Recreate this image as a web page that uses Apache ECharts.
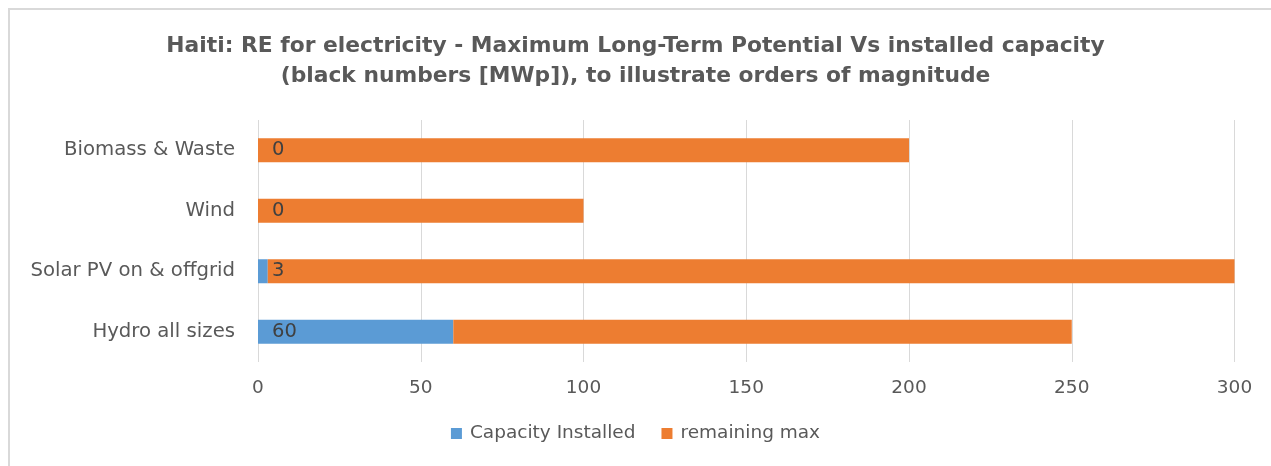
<!DOCTYPE html>
<html><head><meta charset="utf-8">
<script src="https://cdn.jsdelivr.net/npm/echarts@6/dist/echarts.min.js"></script>
<style>
html,body{margin:0;padding:0;background:#fff;overflow:hidden;}
#c{position:absolute;left:0;top:0;width:1271px;height:466px;}
</style></head>
<body>
<div id="c"></div>
<script>
var categories = ['Hydro all sizes', 'Solar PV on & offgrid', 'Wind', 'Biomass & Waste'];
var capacityInstalled = [60, 3, 0, 0];
var remainingMax = [190, 297, 100, 200];
var xTicks = [0, 50, 100, 150, 200, 250, 300];
var seriesNames = ['Capacity Installed', 'remaining max'];

var FONT = 'DejaVu Sans';
var chart = echarts.init(document.getElementById('c'), null, {renderer: 'canvas'});
chart.setOption({
  backgroundColor: '#fff',
  animation: false,
  graphic: [
    {type: 'line', shape: {x1: 8, y1: 9, x2: 1271, y2: 9}, style: {stroke: '#d9d9d9', lineWidth: 2}, silent: true},
    {type: 'line', shape: {x1: 9, y1: 8, x2: 9, y2: 466}, style: {stroke: '#d9d9d9', lineWidth: 2}, silent: true}
  ],
  title: {
    text: 'Haiti: RE for electricity - Maximum Long-Term Potential Vs installed capacity\n(black numbers [MWp]), to illustrate orders of magnitude',
    left: 'center', top: 26,
    textStyle: {fontFamily: FONT, fontWeight: 'bold', fontSize: 21.8, color: '#595959', lineHeight: 30}
  },
  legend: {
    bottom: 18, left: 'center',
    itemWidth: 11, itemHeight: 11, itemGap: 26,
    icon: 'rect',
    textStyle: {fontFamily: FONT, fontSize: 18.5, color: '#595959', padding: [0, 0, 0, 3]},
    data: seriesNames
  },
  grid: {left: 258, right: 36.5, top: 120, height: 242, containLabel: false},
  xAxis: {
    type: 'value', min: xTicks[0], max: xTicks[xTicks.length - 1], interval: 50,
    axisLine: {show: false}, axisTick: {show: false},
    axisLabel: {fontFamily: FONT, fontSize: 18.5, color: '#595959', margin: 17},
    splitLine: {lineStyle: {color: '#d9d9d9', width: 1}}
  },
  yAxis: {
    type: 'category', data: categories,
    axisLine: {show: false}, axisTick: {show: false},
    axisLabel: {fontFamily: FONT, fontSize: 19.7, color: '#595959', margin: 23}
  },
  series: [
    {
      name: seriesNames[0], type: 'bar', stack: 'total', data: capacityInstalled,
      barWidth: 24,
      itemStyle: {color: '#5B9BD5'},
      label: {
        show: true, position: [14, '50%'], align: 'left', verticalAlign: 'middle',
        fontFamily: FONT, fontSize: 19.5, color: '#404040'
      }
    },
    {
      name: seriesNames[1], type: 'bar', stack: 'total', data: remainingMax,
      barWidth: 24,
      itemStyle: {color: '#ED7D31'}
    }
  ]
});
</script>
</body></html>
